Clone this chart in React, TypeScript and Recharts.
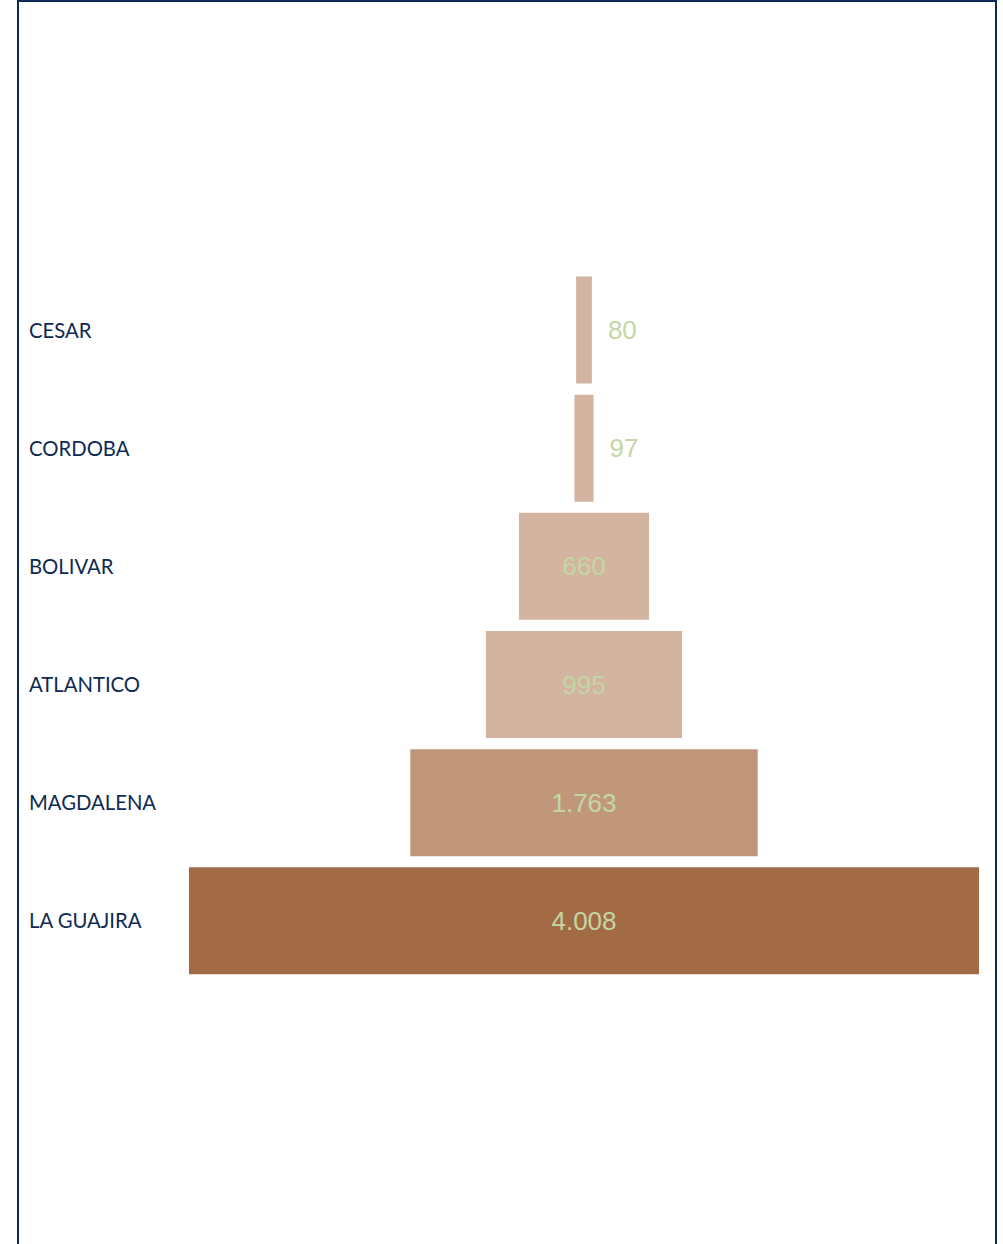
import React from 'react';
import { BarChart, Bar, XAxis, YAxis, Cell, LabelList } from 'recharts';

const categories = ['CESAR', 'CORDOBA', 'BOLIVAR', 'ATLANTICO', 'MAGDALENA', 'LA GUAJIRA'];
const values = [80, 97, 660, 995, 1763, 4008];
const valueLabels = ['80', '97', '660', '995', '1.763', '4.008'];
const barColors = ['#D2B4A0', '#D2B4A0', '#D2B4A0', '#D2B4A0', '#C0977B', '#A26B45'];

const maxValue = Math.max(...values);
const data = categories.map((name, i) => ({
  name,
  pad: (maxValue - values[i]) / 2,
  value: values[i],
  label: valueLabels[i],
}));

const CategoryTick = (props: any) => {
  const { y, payload } = props;
  return (
    <text x={29} y={y} dy={8} textAnchor="start" fill="#0E2A52" fontFamily="Lato, 'Open Sans', sans-serif" fontSize={20.3}>
      {payload.value}
    </text>
  );
};

const ValueLabel = (props: any) => {
  const { x, y, width, height, index } = props;
  const text = valueLabels[index];
  const inside = width > 60;
  const cx = inside ? x + width / 2 : x + width + 16;
  return (
    <text
      x={cx}
      y={y + height / 2}
      dy={9}
      textAnchor={inside ? 'middle' : 'start'}
      fill="#C5D6A4"
      fontFamily="'Liberation Sans', Arial, sans-serif"
      fontSize={26}
    >
      {text}
    </text>
  );
};

export default function App() {
  return (
    <div style={{ position: 'fixed', left: 0, top: 0, width: 1003, height: 1244, overflow: 'hidden', background: '#fff' }}>
      <div
        style={{
          position: 'absolute',
          left: 17,
          top: 0,
          width: 976,
          height: 1260,
          border: '2px solid #0E2A52',
          boxSizing: 'content-box',
        }}
      />
      <div style={{ position: 'absolute', left: 0, top: 0 }}>
        <BarChart
          width={1003}
          height={1244}
          data={data}
          layout="vertical"
          margin={{ top: 270.5, bottom: 264.5, left: 0, right: 24 }}
        >
          <XAxis type="number" hide domain={[0, maxValue]} />
          <YAxis
            type="category"
            dataKey="name"
            width={189}
            axisLine={false}
            tickLine={false}
            tick={<CategoryTick />}
          />
          <Bar dataKey="pad" stackId="a" fill="transparent" barSize={107} isAnimationActive={false} />
          <Bar dataKey="value" stackId="a" barSize={107} isAnimationActive={false}>
            {data.map((d, i) => (
              <Cell key={d.name} fill={barColors[i]} />
            ))}
            <LabelList dataKey="label" content={<ValueLabel />} />
          </Bar>
        </BarChart>
      </div>
    </div>
  );
}
